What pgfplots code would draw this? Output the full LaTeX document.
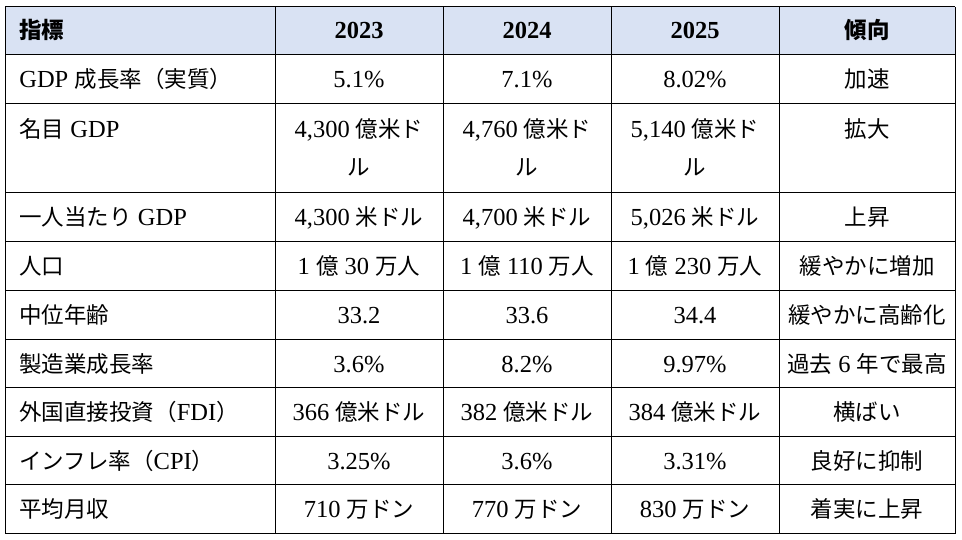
\documentclass[border=0pt]{standalone}
\usepackage{fontspec}
\setmainfont{Liberation Serif}
\newfontfamily\cjk{Noto Sans CJK JP}
\usepackage{pgfplots}
\pgfplotsset{compat=1.18}
\definecolor{hdr}{HTML}{D9E2F3}
\newcommand{\J}[1]{{\cjk\fontsize{22.5bp}{27bp}\selectfont #1}}
\begin{document}
\fontsize{24.5bp}{29bp}\selectfont
\begin{tikzpicture}
\begin{axis}[
  width=962bp, height=540bp, scale only axis,
  xmin=0, xmax=962, ymin=0, ymax=540, y dir=reverse,
  hide axis, clip=false,
  every node/.append style={inner sep=0pt, outer sep=0pt},
]
\fill[white] (axis cs:0,0) rectangle (axis cs:962,540);
\fill[hdr] (axis cs:5,7) rectangle (axis cs:955,55);
% horizontal lines
\pgfplotsinvokeforeach{7,55,104,193,242,291,340,388,437,485,534}{
  \draw[black, line width=1bp] (axis cs:5,#1) -- (axis cs:955,#1);
}
\pgfplotsinvokeforeach{5,275,443,611,779,955}{
  \draw[black, line width=1bp] (axis cs:#1,7) -- (axis cs:#1,534);
}
% header
\node[anchor=base west] at (axis cs:11,39) {\J{\bfseries 指標}};
\node[anchor=base] at (axis cs:359,39) {\bfseries 2023};
\node[anchor=base] at (axis cs:527,39) {\bfseries 2024};
\node[anchor=base] at (axis cs:695,39) {\bfseries 2025};
\node[anchor=base] at (axis cs:867,39) {\J{\bfseries 傾向}};
% row 1
\node[anchor=base west] at (axis cs:11,88) {GDP \J{成長率（実質）}};
\node[anchor=base] at (axis cs:359,88) {5.1\%};
\node[anchor=base] at (axis cs:527,88) {7.1\%};
\node[anchor=base] at (axis cs:695,88) {8.02\%};
\node[anchor=base] at (axis cs:867,88) {\J{加速}};
% row 2
\node[anchor=base west] at (axis cs:11,138) {\J{名目} GDP};
\node[anchor=base] at (axis cs:359,138) {4,300 \J{億米ド}};
\node[anchor=base] at (axis cs:527,138) {4,760 \J{億米ド}};
\node[anchor=base] at (axis cs:695,138) {5,140 \J{億米ド}};
\node[anchor=base] at (axis cs:359,176) {\J{ル}};
\node[anchor=base] at (axis cs:527,176) {\J{ル}};
\node[anchor=base] at (axis cs:695,176) {\J{ル}};
\node[anchor=base] at (axis cs:867,138) {\J{拡大}};
% row 3
\node[anchor=base west] at (axis cs:11,226) {\J{一人当たり} GDP};
\node[anchor=base] at (axis cs:359,226) {4,300 \J{米ドル}};
\node[anchor=base] at (axis cs:527,226) {4,700 \J{米ドル}};
\node[anchor=base] at (axis cs:695,226) {5,026 \J{米ドル}};
\node[anchor=base] at (axis cs:867,226) {\J{上昇}};
% row 4
\node[anchor=base west] at (axis cs:11,275) {\J{人口}};
\node[anchor=base] at (axis cs:359,275) {1 \J{億} 30 \J{万人}};
\node[anchor=base] at (axis cs:527,275) {1 \J{億} 110 \J{万人}};
\node[anchor=base] at (axis cs:695,275) {1 \J{億} 230 \J{万人}};
\node[anchor=base] at (axis cs:867,275) {\J{緩やかに増加}};
% row 5
\node[anchor=base west] at (axis cs:11,324) {\J{中位年齢}};
\node[anchor=base] at (axis cs:359,324) {33.2};
\node[anchor=base] at (axis cs:527,324) {33.6};
\node[anchor=base] at (axis cs:695,324) {34.4};
\node[anchor=base] at (axis cs:867,324) {\J{緩やかに高齢化}};
% row 6
\node[anchor=base west] at (axis cs:11,373) {\J{製造業成長率}};
\node[anchor=base] at (axis cs:359,373) {3.6\%};
\node[anchor=base] at (axis cs:527,373) {8.2\%};
\node[anchor=base] at (axis cs:695,373) {9.97\%};
\node[anchor=base] at (axis cs:867,373) {\J{過去} 6 \J{年で最高}};
% row 7
\node[anchor=base west] at (axis cs:11,421) {\J{外国直接投資（}FDI\J{）}};
\node[anchor=base] at (axis cs:359,421) {366 \J{億米ドル}};
\node[anchor=base] at (axis cs:527,421) {382 \J{億米ドル}};
\node[anchor=base] at (axis cs:695,421) {384 \J{億米ドル}};
\node[anchor=base] at (axis cs:867,421) {\J{横ばい}};
% row 8
\node[anchor=base west] at (axis cs:11,470) {\J{インフレ率（}CPI\J{）}};
\node[anchor=base] at (axis cs:359,470) {3.25\%};
\node[anchor=base] at (axis cs:527,470) {3.6\%};
\node[anchor=base] at (axis cs:695,470) {3.31\%};
\node[anchor=base] at (axis cs:867,470) {\J{良好に抑制}};
% row 9
\node[anchor=base west] at (axis cs:11,518) {\J{平均月収}};
\node[anchor=base] at (axis cs:359,518) {710 \J{万ドン}};
\node[anchor=base] at (axis cs:527,518) {770 \J{万ドン}};
\node[anchor=base] at (axis cs:695,518) {830 \J{万ドン}};
\node[anchor=base] at (axis cs:867,518) {\J{着実に上昇}};
\end{axis}
\end{tikzpicture}
\end{document}
